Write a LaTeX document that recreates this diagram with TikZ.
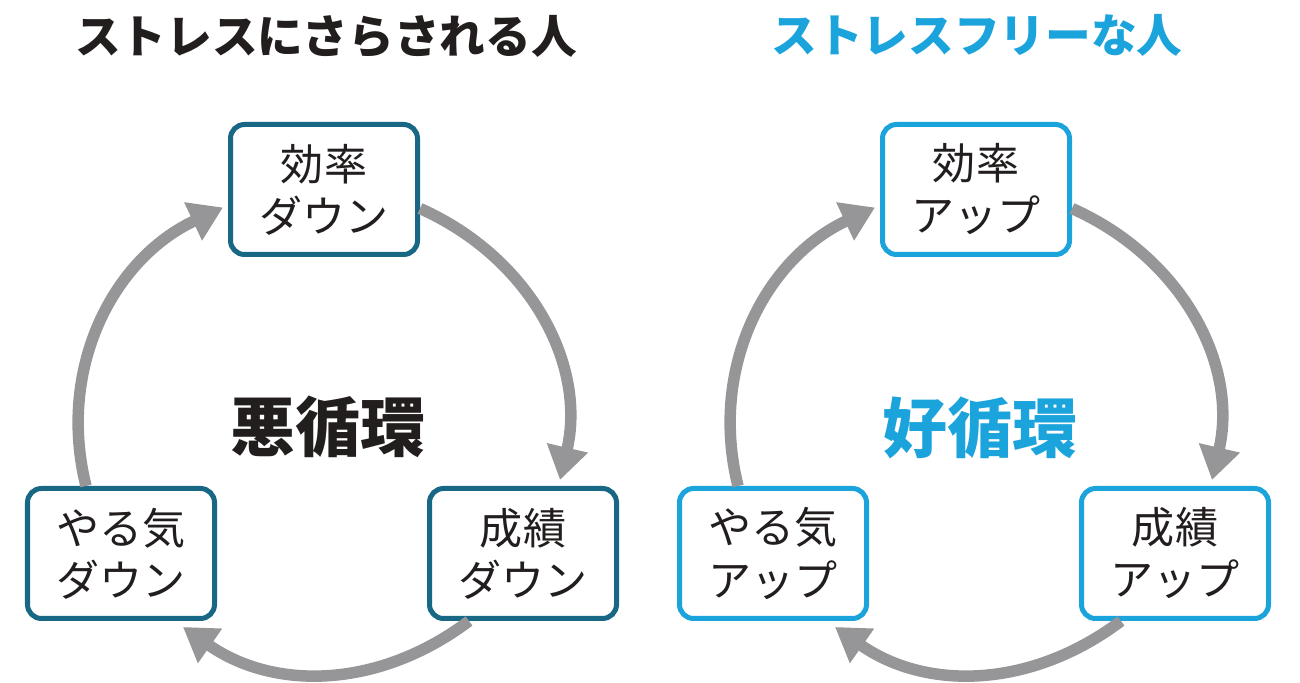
\documentclass[tikz,border=0pt]{standalone}
\usepackage{fontspec}
\usetikzlibrary{arrows.meta}
\newfontfamily\jp{Noto Sans CJK JP}
\definecolor{petrole}{RGB}{24,103,133}
\definecolor{ciel}{RGB}{27,163,220}
\definecolor{gris}{RGB}{150,150,153}
\definecolor{encre}{RGB}{35,30,30}

\begin{document}
\begin{tikzpicture}[
  boite/.style={draw=#1, line width=0.1cm, rounded corners=0.28cm, fill=white,
    minimum width=3.74cm, minimum height=2.6cm, align=center, text=encre,
    font=\jp\fontsize{24.5}{29.6}\selectfont},
  titre/.style={font=\jp\bfseries\fontsize{26}{30}\selectfont},
  cycle/.style={font=\jp\bfseries\fontsize{37}{40}\selectfont},
  fleche/.style={gris, line width=0.23cm, -{Triangle[width=0.8cm,length=0.66cm]}}]
\useasboundingbox (0,0) rectangle (26,13.66);
\node [titre, text=encre] (titreA) at (6.52,12.92) {ストレスにさらされる人};
\node [titre, text=ciel] (titreB) at (19.54,12.96) {ストレスフリーな人};
\node [boite=petrole] (effA) at (6.48,9.87) {効率\\ダウン};
\node [boite=petrole] (resA) at (10.46,2.59) {成績\\ダウン};
\node [boite=petrole] (motA) at (2.42,2.59) {やる気\\ダウン};
\node [cycle, text=encre] (cycA) at (6.56,5.12) {悪循環};
\node [boite=ciel] (effB) at (19.52,9.87) {効率\\アップ};
\node [boite=ciel] (resB) at (23.50,2.59) {成績\\アップ};
\node [boite=ciel] (motB) at (15.46,2.59) {やる気\\アップ};
\node [cycle, text=ciel] (cycB) at (19.60,5.10) {好循環};
\draw [fleche] ([yshift=-0.38cm]effA.east) to[out=-24,in=77] ([xshift=0.74cm,yshift=0.12cm]resA.north);
\draw [fleche] ([xshift=-1.08cm]resA.south) to[out=-143,in=-35] ([xshift=1.24cm,yshift=-0.12cm]motA.south);
\draw [fleche] ([xshift=-0.7cm]motA.north) to[out=104,in=205] ([xshift=-0.1cm,yshift=-0.36cm]effA.west);
\draw [fleche] ([yshift=-0.38cm]effB.east) to[out=-24,in=77] ([xshift=0.74cm,yshift=0.12cm]resB.north);
\draw [fleche] ([xshift=-1.08cm]resB.south) to[out=-143,in=-35] ([xshift=1.24cm,yshift=-0.12cm]motB.south);
\draw [fleche] ([xshift=-0.7cm]motB.north) to[out=104,in=205] ([xshift=-0.1cm,yshift=-0.36cm]effB.west);
\end{tikzpicture}
\end{document}
